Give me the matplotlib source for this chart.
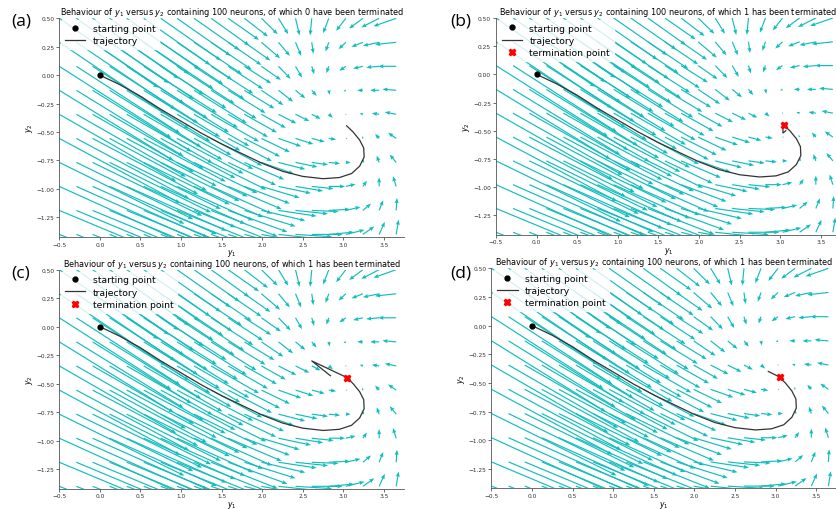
import numpy as np
import matplotlib
matplotlib.use("Agg")
import matplotlib.pyplot as plt

# ---------------- data ----------------
x_grid = [-0.5, -0.29, -0.09, 0.12, 0.33, 0.54, 0.75, 0.95, 1.16, 1.37, 1.58,
          1.78, 1.99, 2.2, 2.41, 2.61, 2.82, 3.03, 3.24, 3.44, 3.65]
y_grid = [0.5, 0.289, 0.078, -0.133, -0.344, -0.556, -0.767, -0.978, -1.189, -1.4]

U = [
    [1.22, 1.14, 1.06, 0.98, 0.90, 0.82, 0.74, 0.66, 0.56, 0.47, 0.38, 0.29, 0.20, 0.12, 0.05, -0.02, -0.07, -0.12, -0.17, -0.22, -0.28],
    [1.31, 1.22, 1.13, 1.04, 0.95, 0.86, 0.77, 0.68, 0.59, 0.50, 0.41, 0.32, 0.23, 0.14, 0.07, 0.02, -0.04, -0.09, -0.14, -0.20, -0.26],
    [1.38, 1.28, 1.19, 1.09, 1.00, 0.90, 0.81, 0.71, 0.62, 0.52, 0.43, 0.33, 0.24, 0.15, 0.08, 0.03, -0.03, -0.08, -0.12, -0.16, -0.22],
    [1.41, 1.32, 1.22, 1.13, 1.03, 0.94, 0.84, 0.75, 0.65, 0.56, 0.46, 0.37, 0.27, 0.18, 0.12, 0.06, 0.01, -0.03, -0.07, -0.11, -0.17],
    [1.44, 1.35, 1.25, 1.16, 1.06, 0.97, 0.87, 0.78, 0.68, 0.59, 0.49, 0.40, 0.30, 0.22, 0.17, 0.11, 0.05, 0.005, -0.04, -0.09, -0.14],
    [1.49, 1.39, 1.30, 1.20, 1.11, 1.01, 0.92, 0.82, 0.73, 0.63, 0.54, 0.44, 0.35, 0.28, 0.22, 0.16, 0.09, 0.02, -0.01, -0.05, -0.10],
    [1.54, 1.44, 1.35, 1.25, 1.16, 1.06, 0.97, 0.87, 0.78, 0.68, 0.59, 0.49, 0.40, 0.33, 0.27, 0.20, 0.14, 0.06, 0.01, -0.03, -0.08],
    [1.61, 1.51, 1.42, 1.32, 1.23, 1.13, 1.04, 0.94, 0.85, 0.75, 0.66, 0.56, 0.47, 0.40, 0.34, 0.27, 0.20, 0.12, 0.05, 0.00, -0.04],
    [1.68, 1.58, 1.49, 1.39, 1.30, 1.20, 1.11, 1.01, 0.92, 0.82, 0.73, 0.63, 0.54, 0.47, 0.40, 0.33, 0.26, 0.18, 0.10, 0.05, 0.01],
    [1.74, 1.64, 1.55, 1.45, 1.36, 1.26, 1.17, 1.07, 0.98, 0.88, 0.79, 0.69, 0.60, 0.52, 0.45, 0.38, 0.31, 0.23, 0.14, 0.07, 0.03],
]
V = [
    [-0.61, -0.57, -0.53, -0.49, -0.45, -0.41, -0.37, -0.33, -0.28, -0.24, -0.19, -0.16, -0.14, -0.14, -0.15, -0.15, -0.13, -0.11, -0.09, -0.08, -0.07],
    [-0.63, -0.59, -0.54, -0.50, -0.46, -0.41, -0.37, -0.33, -0.28, -0.24, -0.20, -0.16, -0.14, -0.12, -0.12, -0.10, -0.08, -0.06, -0.04, -0.03, -0.02],
    [-0.63, -0.59, -0.55, -0.50, -0.46, -0.41, -0.37, -0.33, -0.29, -0.24, -0.20, -0.15, -0.12, -0.11, -0.10, -0.07, -0.06, -0.04, -0.02, -0.01, 0.00],
    [-0.62, -0.58, -0.54, -0.50, -0.45, -0.41, -0.37, -0.33, -0.29, -0.25, -0.20, -0.16, -0.13, -0.10, -0.07, -0.05, -0.04, -0.01, 0.00, 0.00, 0.01],
    [-0.59, -0.55, -0.51, -0.48, -0.43, -0.40, -0.36, -0.32, -0.28, -0.24, -0.20, -0.16, -0.12, -0.08, -0.06, -0.04, -0.03, -0.005, 0.01, 0.01, 0.02],
    [-0.57, -0.53, -0.49, -0.46, -0.42, -0.38, -0.35, -0.31, -0.27, -0.24, -0.20, -0.16, -0.12, -0.07, -0.05, -0.03, -0.01, 0.00, 0.02, 0.04, 0.05],
    [-0.54, -0.50, -0.47, -0.44, -0.41, -0.37, -0.34, -0.30, -0.27, -0.24, -0.20, -0.15, -0.10, -0.06, -0.04, -0.02, -0.01, 0.00, 0.03, 0.06, 0.07],
    [-0.52, -0.48, -0.45, -0.42, -0.39, -0.36, -0.33, -0.30, -0.27, -0.24, -0.20, -0.15, -0.10, -0.06, -0.04, -0.02, 0.00, 0.02, 0.05, 0.08, 0.09],
    [-0.50, -0.47, -0.44, -0.41, -0.38, -0.35, -0.32, -0.29, -0.26, -0.23, -0.19, -0.14, -0.09, -0.05, -0.03, -0.01, 0.01, 0.03, 0.06, 0.09, 0.11],
    [-0.49, -0.46, -0.43, -0.40, -0.37, -0.34, -0.31, -0.28, -0.25, -0.22, -0.18, -0.13, -0.08, -0.04, -0.02, 0.00, 0.02, 0.04, 0.07, 0.11, 0.13],
]

# main trajectory (shared)
traj_x = [0.0, 0.25, 0.5, 0.75, 1.0, 1.25, 1.5, 1.75, 2.0, 2.25, 2.5, 2.75, 2.95,
          3.1, 3.2, 3.255, 3.25, 3.2, 3.12, 3.04]
traj_y = [0.0, -0.085, -0.185, -0.3, -0.405, -0.51, -0.605, -0.69, -0.775, -0.845,
          -0.89, -0.91, -0.9, -0.865, -0.8, -0.72, -0.64, -0.57, -0.5, -0.445]

# extra pieces after the termination point, per panel
tail_b_x = [3.04, 3.035, 3.035, 3.07]
tail_b_y = [-0.445, -0.47, -0.52, -0.50]
tail_c_x = [3.04, 2.61, 2.84]
tail_c_y = [-0.445, -0.30, -0.43]
tail_d_x = [3.04, 2.91]
tail_d_y = [-0.445, -0.40]

start_point = (0.0, 0.0)
term_point = (3.05, -0.45)

n_terminated = [0, 1, 1, 1]
panel_labels = ["(a)", "(b)", "(c)", "(d)"]

x_ticks = [-0.5, 0.0, 0.5, 1.0, 1.5, 2.0, 2.5, 3.0, 3.5]
y_ticks = [0.50, 0.25, 0.00, -0.25, -0.50, -0.75, -1.00, -1.25]

# ---------------- figure ----------------
W, H = 837, 510
fig = plt.figure(figsize=(W / 100, H / 100), dpi=100)

def px_axes(left, top, right, bottom):
    return [left / W, 1 - bottom / H, (right - left) / W, (bottom - top) / H]

axes_px = [
    (59.3, 19.3, 404.3, 237.7),
    (496.0, 19.0, 841.0, 235.5),
    (59.3, 270.7, 404.3, 489.6),
    (491.5, 269.3, 836.5, 489.4),
]
label_px = [(21, 22), (461, 22), (21, 273), (461, 273)]

tails = [(None, None), (tail_b_x, tail_b_y), (tail_c_x, tail_c_y), (tail_d_x, tail_d_y)]

XX, YY = np.meshgrid(x_grid, y_grid)
Uarr = np.array(U)
Varr = np.array(V)

for i in range(4):
    ax = fig.add_axes(px_axes(*axes_px[i]))
    ax.quiver(XX, YY, Uarr, Varr, color="#12BDBD", angles="xy", scale_units="xy",
              scale=1, width=0.0034, headwidth=3.5, headlength=4.5,
              headaxislength=4, zorder=1)
    tx, ty = tails[i]
    ax.plot(*start_point, "o", color="black", markersize=3.5, zorder=4,
            label="starting point")
    if tx is None:
        ax.plot(traj_x, traj_y, color="#333333", lw=0.9, zorder=3, label="trajectory")
    else:
        ax.plot(traj_x + tx[1:], traj_y + ty[1:], color="#333333", lw=0.9,
                zorder=3, label="trajectory")
        ax.plot(*term_point, "X", color="red", markersize=5, zorder=5,
                label="termination point")
    ax.set_xlim(-0.5, 3.75)
    ax.set_ylim(-1.42, 0.5)
    ax.set_xticks(x_ticks)
    ax.set_yticks(y_ticks)
    ax.set_xticklabels([f"{t:.1f}".replace("-", "\u2212") for t in x_ticks])
    ax.set_yticklabels([f"{t:.2f}".replace("-", "\u2212") for t in y_ticks])
    ax.tick_params(labelsize=4.2, length=2, width=0.5, pad=1.5, colors="#333333")
    for s in ["top", "right"]:
        ax.spines[s].set_visible(False)
    for s in ["left", "bottom"]:
        ax.spines[s].set_linewidth(0.6)
        ax.spines[s].set_color("#555555")
    ax.set_xlabel("$y_1$", fontsize=5.5, labelpad=0.3)
    ax.set_ylabel("$y_2$", fontsize=5.5, labelpad=1)
    verb = "have" if n_terminated[i] != 1 else "has"
    ax.set_title(f"Behaviour of $y_1$ versus $y_2$ containing 100 neurons, of which "
                 f"{n_terminated[i]} {verb} been terminated", fontsize=5.85, pad=2.5)
    ax.legend(loc="upper left", fontsize=6.7, frameon=True, framealpha=0.8,
              edgecolor="white", borderpad=0.4, labelspacing=0.35,
              handlelength=2.2, handletextpad=0.8, borderaxespad=0.2)
    lx, ly = label_px[i]
    fig.text(lx / W, 1 - ly / H, panel_labels[i], fontsize=12.5, family="Open Sans",
             ha="center", va="center")

fig.savefig("out.png", dpi=100)
